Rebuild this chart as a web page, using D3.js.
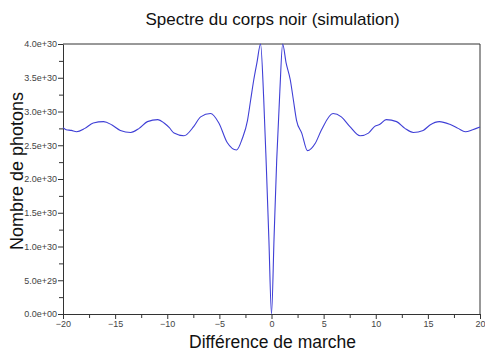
<!DOCTYPE html>
<html>
<head>
<meta charset="utf-8">
<script src="https://cdn.jsdelivr.net/npm/d3@7"></script>
<style>
  html, body { margin: 0; padding: 0; background: #fff; }
  svg { display: block; }
  .tick text { font-family: "Liberation Sans", Arial, sans-serif; font-size: 9px; fill: #444; }
</style>
</head>
<body>
<svg id="chart" width="485" height="352"></svg>
<script>
// Optical path difference (x) and photon count (y, in units of 1e30)
const pathDiff = [
  -20, -19.7, -19.2, -18.7, -17.9, -17.1, -16.1, -15.3, -14.5, -13.5,
  -12.7, -11.9, -10.9, -10.3, -9.8, -9.35, -8.4, -7.45, -6.8, -5.85,
  -5.05, -4.25, -3.35, -2.8, -2.3, -2.0, -1.7, -1.4, -1.05, -0.75,
  -0.5, -0.25, 0, 0.25, 0.5, 0.8, 1.07, 1.4, 1.8, 2.1,
  2.4, 2.9, 3.45, 4.2, 4.8, 5.9, 6.7, 7.5, 8.5, 9.3,
  9.9, 10.4, 11.0, 12.0, 12.8, 13.6, 14.55, 15.2, 16.1, 17.1,
  17.9, 18.6, 19.3, 20
];
const photons = [
  2.76, 2.73, 2.72, 2.70, 2.75, 2.83, 2.85, 2.80, 2.72, 2.69,
  2.75, 2.85, 2.88, 2.83, 2.76, 2.68, 2.64, 2.78, 2.92, 2.97,
  2.83, 2.54, 2.43, 2.60, 2.87, 3.17, 3.47, 3.72, 4.00, 3.20,
  2.20, 1.10, 0.00, 1.15, 2.28, 3.30, 4.00, 3.72, 3.47, 3.17,
  2.87, 2.68, 2.42, 2.53, 2.73, 2.97, 2.92, 2.78, 2.64, 2.68,
  2.78, 2.81, 2.88, 2.85, 2.75, 2.69, 2.72, 2.80, 2.85, 2.81,
  2.75, 2.70, 2.73, 2.77
];
const scaleUnit = 1e30;

const xTicks = [-20, -15, -10, -5, 0, 5, 10, 15, 20];
const xMinorTicks = [-17.5, -12.5, -7.5, -2.5, 2.5, 7.5, 12.5, 17.5];
const yTicks = [0, 0.5e30, 1.0e30, 1.5e30, 2.0e30, 2.5e30, 3.0e30, 3.5e30, 4.0e30];
const yMinorTicks = [0.25e30, 0.75e30, 1.25e30, 1.75e30, 2.25e30, 2.75e30, 3.25e30, 3.75e30];

const titleText = "Spectre du corps noir (simulation)";
const xLabel = "Différence de marche";
const yLabel = "Nombre de photons";

const margin = { left: 63, right: 5, top: 44, bottom: 38 };
const W = 485, H = 352;
const svg = d3.select("#chart");

const x = d3.scaleLinear().domain([-20, 20]).range([margin.left, W - margin.right]);
const y = d3.scaleLinear().domain([0, 4e30]).range([H - margin.bottom, margin.top]);

// exponent notation with a two-digit exponent, e.g. 5.0e+29, 0.0e+00
function sciFmt(v) {
  const s = d3.format(".1e")(v);
  return s.replace(/e([+-])(\d)$/, "e$10$2");
}

const axisColor = "#333";

// minor ticks
svg.append("g")
  .attr("transform", `translate(0,${y(0)})`)
  .call(d3.axisBottom(x).tickValues(xMinorTicks).tickSize(4).tickFormat(""))
  .call(g => g.select(".domain").remove())
  .call(g => g.selectAll("line").attr("stroke", axisColor));
svg.append("g")
  .attr("transform", `translate(${x(-20)},0)`)
  .call(d3.axisLeft(y).tickValues(yMinorTicks).tickSize(4).tickFormat(""))
  .call(g => g.select(".domain").remove())
  .call(g => g.selectAll("line").attr("stroke", axisColor));

// major axes
svg.append("g")
  .attr("transform", `translate(0,${y(0)})`)
  .call(d3.axisBottom(x).tickValues(xTicks).tickSize(5).tickSizeOuter(0).tickPadding(2)
    .tickFormat(d => d < 0 ? "\u2212" + Math.abs(d) : String(d)))
  .call(g => g.select(".domain").attr("stroke", axisColor))
  .call(g => g.selectAll("line").attr("stroke", axisColor));
svg.append("g")
  .attr("transform", `translate(${x(-20)},0)`)
  .call(d3.axisLeft(y).tickValues(yTicks).tickSize(5).tickSizeOuter(0).tickPadding(1)
    .tickFormat(sciFmt))
  .call(g => g.select(".domain").attr("stroke", axisColor))
  .call(g => g.selectAll("line").attr("stroke", axisColor));

// top and right frame
svg.append("line")
  .attr("x1", x(-20)).attr("x2", x(20)).attr("y1", y(4e30)).attr("y2", y(4e30))
  .attr("stroke", axisColor);
svg.append("line")
  .attr("x1", x(20)).attr("x2", x(20)).attr("y1", y(0)).attr("y2", y(4e30))
  .attr("stroke", axisColor);

// spectrum curve
const pts = pathDiff.map((d, i) => [d, photons[i] * scaleUnit]);
svg.append("path")
  .datum(pts)
  .attr("fill", "none")
  .attr("stroke", "#3f3fd6")
  .attr("stroke-width", 1.1)
  .attr("stroke-linejoin", "round")
  .attr("d", d3.line().x(d => x(d[0])).y(d => y(d[1])).curve(d3.curveMonotoneX));

// titles
const labelFont = "'Liberation Sans', Arial, sans-serif";
svg.append("text")
  .attr("x", (x(-20) + x(20)) / 2 + 1).attr("y", 25)
  .attr("text-anchor", "middle")
  .attr("font-family", labelFont).attr("font-size", 17).attr("fill", "#111")
  .text(titleText);
svg.append("text")
  .attr("x", (x(-20) + x(20)) / 2 + 1).attr("y", 348)
  .attr("text-anchor", "middle")
  .attr("font-family", labelFont).attr("font-size", 17.5).attr("fill", "#111")
  .text(xLabel);
svg.append("text")
  .attr("transform", `translate(23,${(y(0) + y(4e30)) / 2 - 8}) rotate(-90)`)
  .attr("text-anchor", "middle")
  .attr("font-family", labelFont).attr("font-size", 18).attr("fill", "#111")
  .text(yLabel);
</script>
</body>
</html>
